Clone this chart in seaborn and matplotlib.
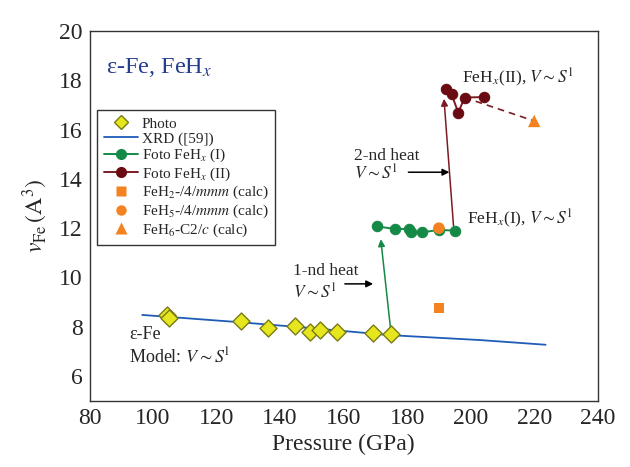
import matplotlib
matplotlib.use("Agg")
import matplotlib.pyplot as plt
import seaborn as sns
from matplotlib.lines import Line2D

# ---------------- data ----------------
photo_p = [104.3, 105.0, 127.7, 136.3, 144.6, 149.4, 152.6, 158.0, 169.4, 174.8]
photo_v = [8.47, 8.34, 8.22, 7.96, 8.04, 7.80, 7.87, 7.77, 7.75, 7.70]

xrd_p = [96.6, 127.7, 149.4, 174.6, 203.0, 223.6]
xrd_v = [8.48, 8.18, 7.95, 7.66, 7.46, 7.27]

feh1_p = [170.6, 176.1, 180.7, 181.3, 184.7, 190.0, 195.2]
feh1_v = [12.07, 11.97, 11.97, 11.83, 11.83, 11.93, 11.90]

feh2_p = [192.2, 194.0, 196.1, 198.1, 204.2]
feh2_v = [17.66, 17.43, 16.69, 17.30, 17.32]

calc_feh2_p, calc_feh2_v = [190.0], [8.76]
calc_feh5_p, calc_feh5_v = [190.0], [12.0]
calc_feh6_p, calc_feh6_v = [220.0], [16.35]

legend_labels = ["Photo", "XRD ([59])", r"Foto FeH$_x$ (I)", r"Foto FeH$_x$ (II)",
                 r"FeH$_2$-/4/$mmm$ (calc)", r"FeH$_5$-/4/$mmm$ (calc)",
                 r"FeH$_6$-C2/$c$ (calc)"]

# ---------------- style ----------------
sns.set_style("white")
plt.rcParams["font.family"] = ["Liberation Serif", "DejaVu Serif"]
plt.rcParams["mathtext.fontset"] = "stix"

c_yel, c_yel_e = "#e6e61e", "#7a7a14"
c_blue = "#1f5cb8"
c_green = "#148a46"
c_red, c_red_l = "#6a0a12", "#7c1c22"
c_orange = "#f58220"

fig = plt.figure(figsize=(6.3, 4.67), dpi=100)
ax = fig.add_axes([89.5 / 630, 1 - 400.7 / 467, (597.7 - 89.5) / 630, (400.7 - 31) / 467])

# XRD line
sns.lineplot(x=xrd_p, y=xrd_v, color=c_blue, lw=1.3, ax=ax, zorder=2)

# FeHx (I)
sns.lineplot(x=feh1_p, y=feh1_v, color=c_green, lw=1.4, marker="o", ms=7.5,
             mec=c_green, mfc=c_green, sort=False, estimator=None, ax=ax, zorder=3)
# FeHx (II)
sns.lineplot(x=feh2_p, y=feh2_v, color=c_red_l, lw=1.4, marker="o", ms=7.5,
             mec=c_red, mfc=c_red, sort=False, estimator=None, ax=ax, zorder=3)
# dashed link FeHx(II) -> FeH6
sns.lineplot(x=[feh2_p[3], calc_feh6_p[0]], y=[feh2_v[3], calc_feh6_v[0]],
             color=c_red_l, lw=1.2, linestyle=(0, (4, 3)), sort=False, estimator=None,
             ax=ax, zorder=2)

# Photo diamonds
sns.scatterplot(x=photo_p, y=photo_v, marker="D", s=75, color=c_yel,
                edgecolor=c_yel_e, linewidth=1.0, ax=ax, zorder=4)

# calc points
sns.scatterplot(x=calc_feh2_p, y=calc_feh2_v, marker="s", s=50, color=c_orange,
                edgecolor="none", ax=ax, zorder=5)
sns.scatterplot(x=calc_feh5_p, y=calc_feh5_v, marker="o", s=70, color=c_orange,
                edgecolor="none", ax=ax, zorder=5)
sns.scatterplot(x=calc_feh6_p, y=calc_feh6_v, marker="^", s=80, color=c_orange,
                edgecolor="none", ax=ax, zorder=5)

# transition arrows
ax.annotate("", xy=(171.7, 11.55), xytext=(photo_p[-1], photo_v[-1] + 0.2),
            arrowprops=dict(arrowstyle="-|>", color=c_green, lw=1.1,
                            mutation_scale=10, shrinkA=0, shrinkB=0), zorder=3)
ax.annotate("", xy=(191.6, 17.25), xytext=(194.6, 12.1),
            arrowprops=dict(arrowstyle="-|>", color=c_red_l, lw=1.1,
                            mutation_scale=10, shrinkA=0, shrinkB=0), zorder=3)
# label arrows
ax.annotate("", xy=(169.3, 9.74), xytext=(160.4, 9.74),
            arrowprops=dict(arrowstyle="-|>", color="black", lw=1.1,
                            mutation_scale=10, shrinkA=0, shrinkB=0))
ax.annotate("", xy=(193.3, 14.27), xytext=(180.4, 14.27),
            arrowprops=dict(arrowstyle="-|>", color="black", lw=1.1,
                            mutation_scale=10, shrinkA=0, shrinkB=0))

# texts
fs_ann = 12.5
ax.text(144.1, 10.27, "1-nd heat", fontsize=fs_ann, va="center", ha="left")
ax.text(144.1, 9.42, r"$V \sim S^{\rm l}$", fontsize=fs_ann, va="center", ha="left")
ax.text(163.3, 14.94, "2-nd heat", fontsize=fs_ann, va="center", ha="left")
ax.text(163.3, 14.22, r"$V \sim S^{\rm l}$", fontsize=fs_ann, va="center", ha="left")
ax.text(198.8, 12.44, r"FeH$_x$(I), $V \sim S^{\rm l}$", fontsize=fs_ann, va="center", ha="left")
ax.text(197.2, 18.16, r"FeH$_x$(II), $V \sim S^{\rm l}$", fontsize=fs_ann, va="center", ha="left")
ax.text(92.5, 7.70, "ε-Fe", fontsize=13, va="center", ha="left")
ax.text(92.5, 6.78, r"Model: $V \sim S^{\rm l}$", fontsize=13, va="center", ha="left")
ax.text(85.2, 18.5, r"ε-Fe, FeH$_x$", fontsize=17.5, color="#243c8c", va="center", ha="left")

# legend
handles = [
    Line2D([], [], ls="none", marker="D", ms=7.5, mfc=c_yel, mec=c_yel_e, mew=1.0),
    Line2D([], [], color=c_blue, lw=1.3),
    Line2D([], [], color=c_green, lw=1.4, marker="o", ms=7, mfc=c_green, mec=c_green),
    Line2D([], [], color=c_red_l, lw=1.4, marker="o", ms=7, mfc=c_red, mec=c_red),
    Line2D([], [], ls="none", marker="s", ms=6.5, mfc=c_orange, mec="none"),
    Line2D([], [], ls="none", marker="o", ms=7.5, mfc=c_orange, mec="none"),
    Line2D([], [], ls="none", marker="^", ms=8, mfc=c_orange, mec="none"),
]
leg = ax.legend(handles, legend_labels, loc="upper left", bbox_to_anchor=(0.0154, 0.786),
                borderaxespad=0, fontsize=11, frameon=True, fancybox=False,
                edgecolor="black", handlelength=2.2, handletextpad=0.25,
                labelspacing=0.08, borderpad=0.45)
leg.get_frame().set_linewidth(1.0)

# axes
ax.set_xlim(80, 240)
ax.set_ylim(5, 20)
ax.set_xticks(range(80, 241, 20))
ax.set_xticks(range(90, 240, 20), minor=True)
ax.set_yticks(range(6, 21, 2))
ax.set_yticks(range(5, 20, 2), minor=True)
ax.tick_params(axis="both", which="major", direction="in", length=5, width=1.0,
               labelsize=17, color="#333333", pad=5)
ax.tick_params(axis="both", which="minor", direction="in", length=2.5, width=1.0,
               color="#333333")
ax.tick_params(top=False, right=False, which="both")
for s in ax.spines.values():
    s.set_color("#333333")
    s.set_linewidth(1.0)
    s.set_visible(True)
ax.set_xlabel("Pressure (GPa)", fontsize=17, labelpad=4)
ax.set_ylabel(r"$v_{\rm Fe}\,({\rm A}^3)$", fontsize=17, labelpad=6)

fig.savefig("out.png", dpi=100)
